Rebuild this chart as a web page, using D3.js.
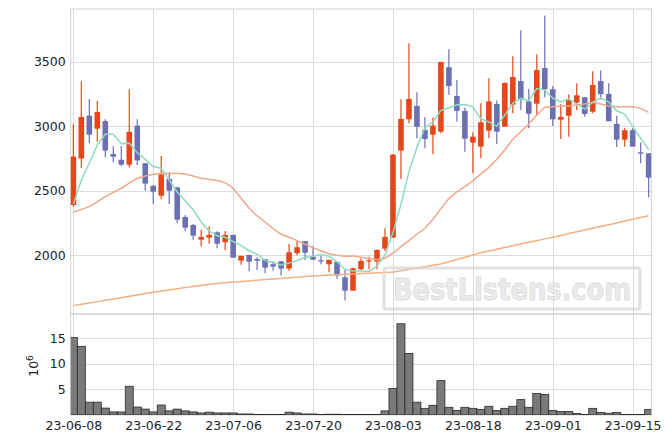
<!DOCTYPE html>
<html><head><meta charset="utf-8">
<script src="https://cdn.jsdelivr.net/npm/d3@7"></script>
<style>body{margin:0;background:#fff} svg{display:block} text{font-family:"DejaVu Sans",sans-serif;fill:#222}</style>
</head><body><svg id="c" width="671" height="444"></svg>
<script>
const dates = ["2023-06-08","2023-06-09","2023-06-12","2023-06-13","2023-06-14","2023-06-15","2023-06-16","2023-06-19","2023-06-20","2023-06-21",
"2023-06-22","2023-06-23","2023-06-26","2023-06-27","2023-06-28","2023-06-29","2023-06-30","2023-07-03","2023-07-04","2023-07-05",
"2023-07-06","2023-07-07","2023-07-10","2023-07-11","2023-07-12","2023-07-13","2023-07-14","2023-07-17","2023-07-18","2023-07-19",
"2023-07-20","2023-07-21","2023-07-24","2023-07-25","2023-07-26","2023-07-27","2023-07-28","2023-07-31","2023-08-01","2023-08-02",
"2023-08-03","2023-08-04","2023-08-07","2023-08-08","2023-08-09","2023-08-10","2023-08-11","2023-08-14","2023-08-16","2023-08-17",
"2023-08-18","2023-08-21","2023-08-22","2023-08-23","2023-08-24","2023-08-25","2023-08-28","2023-08-29","2023-08-30","2023-08-31",
"2023-09-01","2023-09-04","2023-09-05","2023-09-06","2023-09-07","2023-09-08","2023-09-11","2023-09-12","2023-09-13","2023-09-14",
"2023-09-15","2023-09-18","2023-09-19"];
const open  = [2390,2750,3083,2982,3041,2786,2741,2703,3006,2714,2538,2462,2592,2527,2297,2235,2121,2137,2178,2101,
2158,1958,2002,1971,1969,1930,1953,1896,2016,2109,1987,1961,1930,1948,1829,1725,1891,1956,1951,2051,
2137,2812,3055,3159,2972,2936,2959,3459,3236,3120,2874,2843,2967,3174,2998,3169,3352,3194,3176,3453,
3288,3052,3083,3184,3226,3114,3352,3252,3019,2897,2970,2799,2791];
const high  = [3017,3350,3213,3197,3055,2846,2848,3288,3055,2716,2546,2770,2644,2530,2310,2243,2197,2225,2186,2189,
2160,1997,2004,1984,1971,1953,1955,2088,2119,2110,2070,1995,1966,1950,1886,1904,1974,1989,2045,2209,
2785,3211,3645,3265,3070,3068,3502,3601,3360,3145,2955,3179,3373,3200,3340,3544,3746,3293,3560,3860,
3314,3171,3249,3335,3228,3427,3434,3335,3083,2985,2985,2874,2791];
const low   = [2377,2675,2869,2881,2761,2722,2693,2683,2700,2501,2398,2437,2398,2248,2186,2121,2070,2090,2054,2039,
1980,1927,1876,1886,1860,1880,1842,1878,2000,1964,1961,1930,1868,1818,1648,1725,1886,1891,1891,2033,
2135,2592,3024,2907,2830,2784,2946,3244,3037,2804,2637,2752,2908,2864,2996,3101,3127,2985,3088,3226,
3003,2902,2920,3127,3075,3101,3209,3040,2840,2843,2843,2714,2450];
const close = [2765,3073,2936,3111,2812,2765,2703,2958,2736,2556,2494,2628,2501,2276,2214,2152,2142,2158,2090,2158,
1981,1995,1950,1958,1904,1912,1896,2023,2062,2020,1966,1955,1964,1842,1725,1899,1956,1960,2041,2142,
2781,3058,3213,2997,2902,3006,3500,3314,3120,2905,2920,3032,3194,2959,3337,3383,3211,3098,3437,3288,
3055,3073,3205,3241,3096,3321,3249,3040,2897,2970,2843,2788,2602];
const volume = [15.1,13.4,2.5,2.5,1.35,0.6,0.6,5.6,1.55,1.15,0.6,1.95,0.8,1.15,0.8,0.6,0.4,0.55,0.4,0.4,
0.4,0.2,0.2,0.08,0.12,0.12,0.12,0.55,0.4,0.2,0.2,0.1,0.15,0.15,0.1,0.1,0.1,0.1,0.1,0.8,
5.2,17.8,12.0,2.5,1.3,1.9,6.7,1.5,0.9,1.5,1.3,1.1,1.7,0.9,1.3,1.7,3.0,1.5,4.2,4.0,
0.9,0.7,0.7,0.3,0.1,1.3,0.5,0.35,0.5,0.1,0.1,0.1,1.1];
const ma5 = [2398,2584,2714,2856,2939,2939,2865,2870,2795,2744,2689,2674,2583,2491,2423,2354,2257,2188,2151,2140,
2106,2076,2035,2008,1958,1944,1924,1939,1959,1983,1993,2005,1993,1949,1890,1877,1877,1876,1916,2000,
2176,2396,2647,2838,2990,3035,3124,3144,3168,3169,3152,3058,3034,3002,3088,3181,3217,3198,3293,3283,
3218,3190,3212,3172,3134,3187,3222,3189,3121,3095,3000,2908,2820];
const ma20 = [2336,2356,2377,2415,2455,2488,2520,2560,2597,2615,2629,2634,2636,2634,2631,2615,2597,2590,2580,2563,
2520,2442,2365,2305,2256,2207,2163,2140,2113,2085,2057,2033,2012,2000,1992,1995,1984,1974,1966,1977,
2016,2067,2113,2163,2209,2280,2362,2440,2491,2532,2577,2631,2680,2745,2817,2900,2959,3019,3089,3148,
3153,3158,3158,3166,3174,3187,3174,3158,3153,3153,3153,3140,3109];
const ma60 = [1609,1619,1630,1640,1651,1661,1671,1682,1692,1703,1713,1722,1731,1740,1749,1757,1766,1775,1781,1786,
1792,1797,1801,1806,1811,1816,1820,1825,1830,1835,1839,1842,1846,1849,1852,1855,1858,1861,1864,1867,
1870,1880,1891,1901,1911,1922,1932,1950,1967,1985,2002,2020,2033,2047,2060,2073,2087,2100,2113,2127,
2140,2154,2168,2182,2196,2210,2223,2237,2251,2265,2279,2293,2307];
const priceTicks = [2000,2500,3000,3500];
const volTicks = [5,10,15];
const dateTickIdx = [0,10,20,30,40,50,60,70];
const volLabel = "10";
const volExp = "6";
const watermark = "BestListens.com";

const svg = d3.select("#c");
const L = 70.7, R = 651.3, T = 9, MB = 314, VB = 415;
const x = d3.scaleLinear().domain([-0.33, dates.length - 1 + 0.33]).range([L, R]);
const y = d3.scaleLinear().domain([1544, 3911]).range([MB, T]);
const yv = d3.scaleLinear().domain([0, 19.7]).range([VB, MB]);
const fmt = d3.timeFormat("%y-%m-%d"), parse = d3.timeParse("%Y-%m-%d");
const idx = d3.range(dates.length);

const defs = svg.append("defs");
defs.append("clipPath").attr("id","cm").append("rect").attr("x",L).attr("y",T).attr("width",R-L).attr("height",MB-T);
defs.append("clipPath").attr("id","cv").append("rect").attr("x",L).attr("y",MB).attr("width",R-L).attr("height",VB-MB);

const grid = "#dcdcdc";
const gm = svg.append("g");
gm.selectAll("line.h").data(priceTicks).join("line").attr("x1",L).attr("x2",R)
  .attr("y1",d=>Math.round(y(d))+0.5).attr("y2",d=>Math.round(y(d))+0.5).attr("stroke",grid);
gm.selectAll("line.v").data(dateTickIdx).join("line").attr("y1",T).attr("y2",MB)
  .attr("x1",d=>Math.round(x(d))+0.5).attr("x2",d=>Math.round(x(d))+0.5).attr("stroke",grid);
gm.append("rect").attr("x",L).attr("y",T).attr("width",R-L).attr("height",MB-T).attr("fill","none").attr("stroke","#d0d0d0");
const gv = svg.append("g");
gv.selectAll("line.h").data(volTicks).join("line").attr("x1",L).attr("x2",R)
  .attr("y1",d=>Math.round(yv(d))+0.5).attr("y2",d=>Math.round(yv(d))+0.5).attr("stroke",grid);
gv.selectAll("line.v").data(dateTickIdx).join("line").attr("y1",MB).attr("y2",VB)
  .attr("x1",d=>Math.round(x(d))+0.5).attr("x2",d=>Math.round(x(d))+0.5).attr("stroke",grid);
gv.append("rect").attr("x",L).attr("y",MB).attr("width",R-L).attr("height",VB-MB).attr("fill","none").attr("stroke","#d0d0d0");

const ay = svg.append("g").attr("transform",`translate(${L},0)`)
  .call(d3.axisLeft(y).tickValues(priceTicks).tickFormat(d3.format("d")).tickSize(0).tickPadding(5));
const av = svg.append("g").attr("transform",`translate(${L},0)`)
  .call(d3.axisLeft(yv).tickValues(volTicks).tickFormat(d3.format("d")).tickSize(0).tickPadding(5));
const ax = svg.append("g").attr("transform",`translate(0,${VB})`)
  .call(d3.axisBottom(x).tickValues(dateTickIdx).tickFormat(i=>fmt(parse(dates[i]))).tickSize(0).tickPadding(6));
[ay,av,ax].forEach(g=>{g.select(".domain").remove(); g.selectAll("text").attr("font-size",12.5).attr("fill","#222").attr("font-family","DejaVu Sans");});

svg.append("text").attr("transform","translate(38,366) rotate(-90)").attr("text-anchor","middle")
  .attr("font-size",12.5).text(volLabel).append("tspan").attr("dy",-5).attr("font-size",9).text(volExp);

svg.append("g").attr("clip-path","url(#cv)").selectAll("rect").data(idx).join("rect")
  .attr("x",i=>x(i)-4).attr("width",8).attr("y",i=>yv(volume[i])).attr("height",i=>VB-yv(volume[i]))
  .attr("fill","#7a7a7a").attr("stroke","#2a2a2a").attr("stroke-width",0.8);

const up = "#e6471a", dn = "#6b70b2";
const gc = svg.append("g").attr("clip-path","url(#cm)");
gc.selectAll("line").data(idx).join("line")
  .attr("x1",i=>x(i)).attr("x2",i=>x(i)).attr("y1",i=>y(high[i])).attr("y2",i=>y(low[i]))
  .attr("stroke",i=>close[i]>=open[i]?up:dn).attr("stroke-width",1.2);
gc.selectAll("rect").data(idx).join("rect")
  .attr("x",i=>x(i)-2.8).attr("width",5.6)
  .attr("y",i=>y(Math.max(open[i],close[i])))
  .attr("height",i=>Math.max(1.2, Math.abs(y(open[i])-y(close[i]))))
  .attr("fill",i=>close[i]>=open[i]?up:dn);

const line = arr => d3.line().x(i=>x(i)).y(i=>y(arr[i]))(idx);
gc.append("path").attr("d",line(ma60)).attr("fill","none").attr("stroke","#efb183").attr("stroke-width",1.5);
gc.append("path").attr("d",line(ma20)).attr("fill","none").attr("stroke","#eea88c").attr("stroke-width",1.5);
gc.append("path").attr("d",line(ma5)).attr("fill","none").attr("stroke","#8edbbf").attr("stroke-width",1.5);

const wm = svg.append("g").attr("opacity",0.75);
wm.append("rect").attr("x",384).attr("y",268).attr("width",256).attr("height",41).attr("rx",2)
  .attr("fill","none").attr("stroke","#d6d6d6").attr("stroke-width",3);
wm.append("text").attr("x",393).attr("y",300).attr("font-family","Liberation Sans").attr("font-weight","bold")
  .attr("font-size",30).attr("textLength",238).attr("lengthAdjust","spacingAndGlyphs")
  .style("fill","#e4e4e4").attr("stroke","#cfcfcf").attr("stroke-width",0.8).text(watermark);
</script></body></html>
